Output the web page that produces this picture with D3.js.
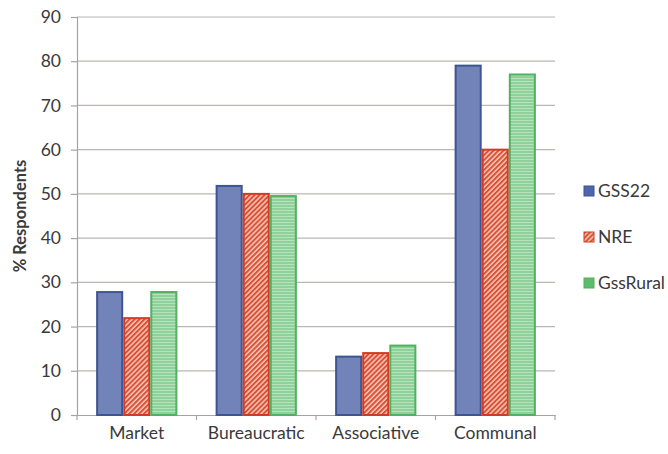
<!DOCTYPE html>
<html>
<head>
<meta charset="utf-8">
<script src="https://cdn.jsdelivr.net/npm/d3@7"></script>
<style>
  html, body { margin: 0; padding: 0; background: #fff; }
  svg { display: block; font-family: Lato, "Open Sans", sans-serif; }
</style>
</head>
<body>
<svg id="chart" width="668" height="454"></svg>
<script>
// Governance mode categories and survey series
const categories = ["Market", "Bureaucratic", "Associative", "Communal"];
const seriesNames = ["GSS22", "NRE", "GssRural"];
const gss22 = [27.8, 51.8, 13.2, 79];
const nre = [21.9, 50, 14, 60];
const gssRural = [27.8, 49.5, 15.7, 77];
const yTicks = [0, 10, 20, 30, 40, 50, 60, 70, 80, 90];

const seriesValues = [gss22, nre, gssRural];
const rows = categories.map((c, i) => ({
  category: c,
  values: seriesNames.map((s, j) => ({ series: s, value: seriesValues[j][i] }))
}));

const svg = d3.select("#chart");
const margin = { left: 77, right: 113, top: 17, bottom: 39 };
const W = 668, H = 454;
const fontSize = 17.5;

const x = d3.scaleBand().domain(categories)
  .range([margin.left, W - margin.right]).paddingInner(0.32).paddingOuter(0.16);
const xs = d3.scaleBand().domain(seriesNames).range([0, x.bandwidth()]);
const y = d3.scaleLinear().domain([0, 90]).range([H - margin.bottom, margin.top]);

// Fill patterns
const defs = svg.append("defs");
const hatch = defs.append("pattern").attr("id", "hatchNRE")
  .attr("patternUnits", "userSpaceOnUse").attr("width", 3.5).attr("height", 3.5)
  .attr("patternTransform", "rotate(45)");
hatch.append("rect").attr("width", 3.5).attr("height", 3.5).attr("fill", "#f4cbbd");
hatch.append("rect").attr("width", 2).attr("height", 3.5).attr("fill", "#db5035");

const lines = defs.append("pattern").attr("id", "linesRural")
  .attr("patternUnits", "userSpaceOnUse").attr("width", 4).attr("height", 3);
lines.append("rect").attr("width", 4).attr("height", 3).attr("fill", "#8fd19a");
lines.append("rect").attr("width", 4).attr("height", 1).attr("fill", "#b6e2bc");

const fills = { GSS22: "#7283b9", NRE: "url(#hatchNRE)", GssRural: "url(#linesRural)" };
const strokes = { GSS22: "#3d5592", NRE: "#d43a24", GssRural: "#52b061" };
const swatch = { GSS22: "#4d67ae", NRE: "url(#hatchNRE)", GssRural: "#5cbc6b" };

// Gridlines
svg.append("g").selectAll("line").data(yTicks.filter(d => d > 0)).join("line")
  .attr("x1", margin.left).attr("x2", W - margin.right)
  .attr("y1", d => y(d)).attr("y2", d => y(d))
  .attr("stroke", "#bdb6b3").attr("stroke-width", 1.2);

// Y axis
const yAxis = svg.append("g").attr("transform", `translate(${margin.left},0)`)
  .call(d3.axisLeft(y).tickValues(yTicks).tickSize(6).tickPadding(10));
yAxis.select(".domain").attr("stroke", "#a8a2a0").attr("stroke-width", 1.2);
yAxis.selectAll(".tick line").attr("stroke", "#a8a2a0").attr("stroke-width", 1.2);
yAxis.selectAll("text").attr("font-size", fontSize).attr("fill", "#3a3a3a")
  .attr("font-family", "Lato, 'Open Sans', sans-serif");

// X axis
const xAxis = svg.append("g").attr("transform", `translate(0,${y(0)})`)
  .call(d3.axisBottom(x).tickSize(0).tickPadding(12));
xAxis.select(".domain").attr("stroke", "#a8a2a0").attr("stroke-width", 1.2);
xAxis.selectAll("text").attr("font-size", fontSize).attr("fill", "#3a3a3a")
  .attr("font-family", "Lato, 'Open Sans', sans-serif");
// Category separator ticks
const step = x.step();
const seps = d3.range(categories.length + 1).map(i =>
  i === 0 ? margin.left : (i === categories.length ? W - margin.right : x(categories[i]) - x.paddingInner() * step / 2));
svg.append("g").selectAll("line").data(seps).join("line")
  .attr("x1", d => d).attr("x2", d => d)
  .attr("y1", y(0)).attr("y2", y(0) + 5)
  .attr("stroke", "#a8a2a0").attr("stroke-width", 1.2);

// Bars
svg.append("g").selectAll("g").data(rows).join("g")
  .attr("transform", d => `translate(${x(d.category)},0)`)
  .selectAll("rect").data(d => d.values).join("rect")
  .attr("x", d => xs(d.series) + 1).attr("width", xs.bandwidth() - 2)
  .attr("y", d => y(d.value)).attr("height", d => y(0) - y(d.value))
  .attr("fill", d => fills[d.series]).attr("stroke", d => strokes[d.series])
  .attr("stroke-width", 2);

// Y title
svg.append("text")
  .attr("transform", `translate(26,${(y(0) + y(90)) / 2}) rotate(-90)`)
  .attr("text-anchor", "middle").attr("font-size", 16.5).attr("font-weight", "bold")
  .attr("fill", "#3a3a3a").text("% Respondents");

// Legend
const legend = svg.append("g").selectAll("g").data(seriesNames).join("g")
  .attr("transform", (d, i) => `translate(584,${191 + i * 46})`);
legend.append("rect").attr("x", 0).attr("y", -5).attr("width", 10).attr("height", 10)
  .attr("fill", d => swatch[d]).attr("stroke", d => strokes[d]).attr("stroke-width", 1);
legend.append("text").attr("x", 14).attr("y", 0).attr("dy", "0.35em")
  .attr("font-size", fontSize).attr("fill", "#3a3a3a").text(d => d);
</script>
</body>
</html>
